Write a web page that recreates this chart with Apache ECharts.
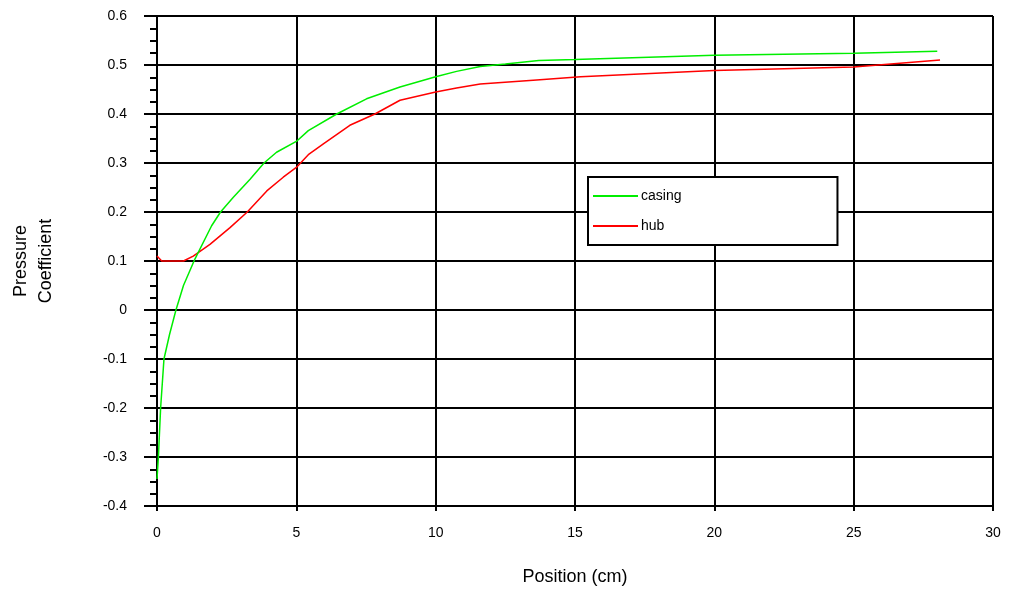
<!DOCTYPE html>
<html>
<head>
<meta charset="utf-8">
<script src="https://cdn.jsdelivr.net/npm/echarts@6/dist/echarts.min.js"></script>
<style>html,body{margin:0;padding:0;background:#fff}#c{width:1009px;height:594px}</style>
</head>
<body>
<div id="c"></div>
<script>
var seriesNames = ['casing', 'hub'];
var casingX = [0, 0.05, 0.13, 0.25, 0.45, 0.68, 0.95, 1.36, 1.96, 2.28, 2.74, 3.34, 3.84, 4.29, 5.0, 5.43, 6.45, 7.52, 8.72, 10.0, 10.75, 11.6, 12.5, 13.7, 15, 20, 25, 28];
var casingY = [-0.345, -0.30, -0.20, -0.10, -0.05, 0.0, 0.05, 0.104, 0.172, 0.20, 0.23, 0.267, 0.30, 0.322, 0.344, 0.366, 0.40, 0.431, 0.455, 0.476, 0.487, 0.497, 0.502, 0.509, 0.511, 0.52, 0.524, 0.528];
var hubX = [0, 0.17, 0.95, 1.3, 1.9, 2.62, 3.24, 3.94, 4.53, 5.0, 5.43, 5.97, 6.92, 7.82, 8.72, 10.0, 10.75, 11.6, 13.5, 15.2, 20.0, 25.0, 28.1];
var hubY = [0.11, 0.10, 0.10, 0.11, 0.134, 0.168, 0.20, 0.243, 0.271, 0.291, 0.317, 0.339, 0.377, 0.40, 0.428, 0.445, 0.453, 0.461, 0.469, 0.476, 0.489, 0.496, 0.51];
var xTicks = [0, 5, 10, 15, 20, 25, 30];
var yTicks = [-0.4, -0.3, -0.2, -0.1, 0, 0.1, 0.2, 0.3, 0.4, 0.5, 0.6];
var xTitle = 'Position (cm)';
var yTitle = 'Pressure\nCoefficient';

function pairs(xs, ys) { return xs.map(function (x, i) { return [x, ys[i]]; }); }

var font = 'Liberation Sans, Arial, sans-serif';
var chart = echarts.init(document.getElementById('c'), null, { renderer: 'canvas' });
chart.setOption({
  animation: false,
  backgroundColor: '#fff',
  grid: { left: 157, right: 16, top: 16, bottom: 88, containLabel: false, outerBoundsMode: 'none' },
  legend: {
    orient: 'vertical',
    left: 588, top: 177,
    padding: [11, 156, 11, 5],
    itemGap: 14,
    icon: 'rect',
    itemWidth: 45, itemHeight: 2,
    backgroundColor: '#fff',
    borderColor: '#000', borderWidth: 2, borderRadius: 0,
    textStyle: { fontFamily: font, fontSize: 14, color: '#000', lineHeight: 16, padding: [0, 0, 0, -2] },
    data: seriesNames
  },
  xAxis: {
    type: 'value', min: xTicks[0], max: xTicks[xTicks.length - 1], interval: 5,
    name: xTitle, nameLocation: 'middle', nameGap: 62,
    nameTextStyle: { fontFamily: font, fontSize: 18, color: '#000' },
    axisLine: { show: true, onZero: false, lineStyle: { color: '#000', width: 2 } },
    axisTick: { show: true, length: 5, lineStyle: { color: '#000', width: 2 } },
    axisLabel: { fontFamily: font, fontSize: 14, color: '#000', margin: 20 },
    splitLine: { show: true, lineStyle: { color: '#000', width: 2 } }
  },
  yAxis: {
    type: 'value', min: yTicks[0], max: yTicks[yTicks.length - 1], interval: 0.1,
    name: yTitle, nameLocation: 'middle', nameGap: 98, nameRotate: 90,
    nameTextStyle: { fontFamily: font, fontSize: 18, color: '#000', lineHeight: 25 },
    axisLine: { show: true, onZero: false, lineStyle: { color: '#000', width: 2 } },
    axisTick: { show: true, length: 13, lineStyle: { color: '#000', width: 2 } },
    minorTick: { show: true, splitNumber: 4, length: 7, lineStyle: { color: '#000', width: 2 } },
    axisLabel: { fontFamily: font, fontSize: 14, color: '#000', margin: 30,
      formatter: function (v) { return (Math.round(v * 10) / 10).toString(); } },
    splitLine: { show: true, lineStyle: { color: '#000', width: 2 } }
  },
  series: [
    { name: seriesNames[0], type: 'line', data: pairs(casingX, casingY), showSymbol: false, symbol: 'none',
      lineStyle: { color: '#00ee00', width: 1.5 }, itemStyle: { color: '#00ee00' }, z: 3 },
    { name: seriesNames[1], type: 'line', data: pairs(hubX, hubY), showSymbol: false, symbol: 'none',
      lineStyle: { color: '#ff0000', width: 1.5 }, itemStyle: { color: '#ff0000' }, z: 2 }
  ]
});
</script>
</body>
</html>
